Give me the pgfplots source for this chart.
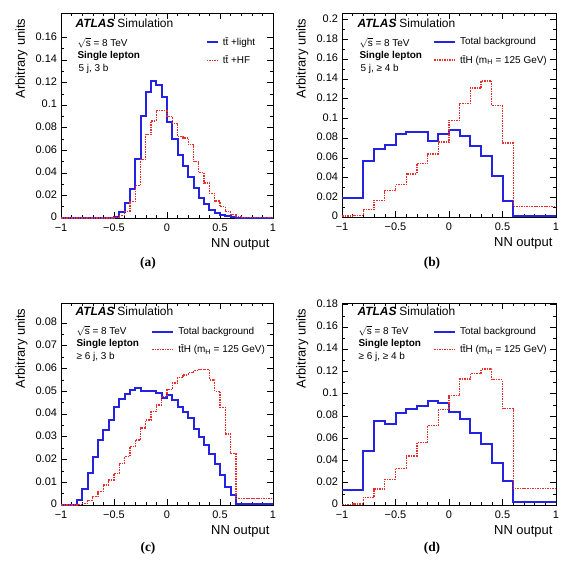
\documentclass[border=0pt]{standalone}
\usepackage{pgfplots}
\pgfplotsset{compat=1.18}
\usepackage{fontspec}
\setmainfont{Liberation Sans}
\newfontfamily\capfont{Liberation Serif}
\definecolor{hblue}{RGB}{35,35,225}
\definecolor{hred}{RGB}{235,45,45}
\newcommand{\ttb}{t\={t}}
\pgfplotsset{
  panel/.style={
    scale only axis, anchor=north west,
    xmin=-1, xmax=1, ymin=0,
    xtick={-1,-0.5,0,0.5,1},
    xticklabels={−1,−0.5,0,0.5,1},
    minor x tick num=4, minor y tick num=1,
    tick align=inside,
    major tick length=6bp, minor tick length=3bp,
    axis line style={line width=0.7bp},
    every tick/.style={black, line width=0.6bp},
    tick label style={font=\fontsize{11}{11}\selectfont},
    xticklabel style={yshift=-2bp},
    yticklabel style={xshift=-0.5bp, yshift=1bp},
    /pgf/number format/fixed, /pgf/number format/precision=2,
    /pgf/number format/assume math mode=true,
    scaled y ticks=false,
    xlabel={NN output}, ylabel={Arbitrary units},
    every axis x label/.style={at={(axis description cs:1,-0.145)}, anchor=base east, font=\fontsize{13}{13}\selectfont},
    every axis y label/.style={at={(axis description cs:-0.170,0.990)}, anchor=base east, rotate=90, font=\fontsize{13}{13}\selectfont},
    legend cell align=left,
  },
  bl/.style={hblue, line width=2bp, const plot mark left, no marks},
  rd/.style={hred, line width=1.3bp, dash pattern=on 1.5bp off 1bp, const plot mark left, no marks},
  lg/.style={legend style={draw=none, fill=none, at={(axis description cs:#1)}, anchor=north west,
     font=\fontsize{10}{12}\selectfont, row sep=7bp, inner sep=0pt,
     nodes={inner sep=1bp}, /tikz/every odd column/.style={column sep=3bp}}},
}
\newcommand{\atlas}[5]{%
  \node[anchor=base west, font=\fontsize{12}{12}\selectfont] at (#1bp,#2bp) {\textbf{\textit{ATLAS}}\kern3bp Simulation};
  \node[anchor=base west, font=\fontsize{10}{10}\selectfont] at (#3bp,#2bp-19bp) {$\sqrt{\hbox{s}}$ = 8 TeV};
  \node[anchor=base west, font=\fontsize{10}{10}\selectfont\bfseries] at (#3bp,#2bp-31bp) {Single lepton};
  \node[anchor=base west, font=\fontsize{10}{10}\selectfont] at (#4bp,#2bp-44bp) {#5};
}
\begin{document}
\begin{tikzpicture}
\useasboundingbox (0,0) rectangle (565bp,-566bp);
% ---------------- (a)
\begin{axis}[panel, at={(61bp,-13bp)}, width=212bp, height=205bp, ymax=0.1816,
  ytick={0,0.02,0.04,0.06,0.08,0.1,0.12,0.14,0.16}, lg={0.682,0.885},
  legend image code/.code={\draw[#1] (0bp,0bp) -- (11bp,0bp);}]
\addplot[bl] coordinates {
(-1,0)(-0.95,0)(-0.9,0)(-0.85,0)(-0.8,0)(-0.75,0)(-0.7,0)(-0.65,0)(-0.6,0)(-0.55,0)
(-0.5,0.001)(-0.45,0.005)(-0.4,0.0135)(-0.35,0.026)(-0.3,0.052)(-0.25,0.090)(-0.2,0.112)(-0.15,0.121)(-0.1,0.118)(-0.05,0.107)
(0,0.085)(0.05,0.070)(0.1,0.056)(0.15,0.046)(0.2,0.0365)(0.25,0.027)(0.3,0.018)(0.35,0.012)(0.4,0.0073)(0.45,0.0046)
(0.5,0.0025)(0.55,0.0014)(0.6,0.0007)(0.65,0.0002)(0.7,0.0002)(0.75,0.0001)(0.8,0.0001)(0.85,0.0001)(0.9,0.0001)(0.95,0.0001)(1,0.0001)};
\addlegendentry{\ttb\ +light}
\addplot[rd] coordinates {
(-1,0)(-0.95,0)(-0.9,0)(-0.85,0)(-0.8,0)(-0.75,0)(-0.7,0)(-0.65,0)(-0.6,0)(-0.55,0)
(-0.5,0.0005)(-0.45,0.002)(-0.4,0.006)(-0.35,0.0145)(-0.3,0.029)(-0.25,0.052)(-0.2,0.074)(-0.15,0.086)(-0.1,0.095)(-0.05,0.095)
(0,0.090)(0.05,0.084)(0.1,0.072)(0.15,0.071)(0.2,0.065)(0.25,0.050)(0.3,0.040)(0.35,0.031)(0.4,0.022)(0.45,0.015)
(0.5,0.010)(0.55,0.0056)(0.6,0.003)(0.65,0.0012)(0.7,0.0003)(0.75,0.0002)(0.8,0.0002)(0.85,0.0002)(0.9,0.0002)(0.95,0.0002)(1,0.0002)};
\addlegendentry{\ttb\ +HF}
\end{axis}
% ---------------- (b)
\begin{axis}[panel, at={(342bp,-13bp)}, width=214bp, height=204bp, ymax=0.2068,
  ytick={0,0.02,0.04,0.06,0.08,0.1,0.12,0.14,0.16,0.18,0.2}, lg={0.425,0.885},
  legend image code/.code={\draw[#1] (0bp,0bp) -- (21bp,0bp);}]
\addplot[bl] coordinates {
(-1,0.019)(-0.9,0.019)(-0.8,0.0564)(-0.7,0.069)(-0.6,0.0726)(-0.5,0.0845)(-0.4,0.086)(-0.3,0.086)(-0.2,0.0774)(-0.1,0.084)
(0,0.088)(0.1,0.0818)(0.2,0.0723)(0.3,0.0615)(0.4,0.042)(0.5,0.0159)(0.6,0.0014)(0.7,0.0014)(0.8,0.0014)(0.9,0.0014)(1,0.0014)};
\addlegendentry{Total background}
\addplot[rd] coordinates {
(-1,0.001)(-0.9,0.0012)(-0.8,0.0074)(-0.7,0.0169)(-0.6,0.0267)(-0.5,0.0328)(-0.4,0.0436)(-0.3,0.054)(-0.2,0.0639)(-0.1,0.076)
(0,0.098)(0.1,0.1149)(0.2,0.1307)(0.3,0.138)(0.4,0.1128)(0.5,0.075)(0.6,0.0108)(0.7,0.0108)(0.8,0.0108)(0.9,0.0108)(1,0.0108)};
\addlegendentry{\ttb H (m\textsubscript{H} = 125 GeV)}
\end{axis}
% ---------------- (c)
\begin{axis}[panel, at={(61bp,-303bp)}, width=212bp, height=202bp, ymax=0.0888,
  ytick={0,0.01,0.02,0.03,0.04,0.05,0.06,0.07,0.08}, lg={0.425,0.885},
  legend image code/.code={\draw[#1] (0bp,0bp) -- (21bp,0bp);}]
\addplot[bl] coordinates {
(-1,0)(-0.95,0)(-0.9,0)(-0.85,0.002)(-0.8,0.007)(-0.75,0.0142)(-0.7,0.021)(-0.65,0.0285)(-0.6,0.033)(-0.55,0.0374)
(-0.5,0.043)(-0.45,0.0465)(-0.4,0.049)(-0.35,0.0505)(-0.3,0.0513)(-0.25,0.0502)(-0.2,0.0502)(-0.15,0.0500)(-0.1,0.0492)(-0.05,0.0472)
(0,0.0483)(0.05,0.0463)(0.1,0.0433)(0.15,0.0411)(0.2,0.0382)(0.25,0.0335)(0.3,0.0298)(0.35,0.0264)(0.4,0.0223)(0.45,0.0180)
(0.5,0.0130)(0.55,0.0081)(0.6,0.0044)(0.65,0.0005)(0.7,0.0005)(0.75,0.0005)(0.8,0.0005)(0.85,0.0005)(0.9,0.0005)(0.95,0.0005)(1,0.0005)};
\addlegendentry{Total background}
\addplot[rd] coordinates {
(-1,0)(-0.95,0)(-0.9,0)(-0.85,0.0002)(-0.8,0.0007)(-0.75,0.002)(-0.7,0.0037)(-0.65,0.0059)(-0.6,0.0088)(-0.55,0.011)
(-0.5,0.014)(-0.45,0.0184)(-0.4,0.0213)(-0.35,0.0257)(-0.3,0.0286)(-0.25,0.0338)(-0.2,0.0374)(-0.15,0.0411)(-0.1,0.044)(-0.05,0.0477)
(0,0.0507)(0.05,0.0536)(0.1,0.0560)(0.15,0.0572)(0.2,0.0582)(0.25,0.0590)(0.3,0.0597)(0.35,0.0595)(0.4,0.0550)(0.45,0.0500)
(0.5,0.0430)(0.55,0.0312)(0.6,0.0225)(0.65,0.0028)(0.7,0.0028)(0.75,0.0028)(0.8,0.0028)(0.85,0.0028)(0.9,0.0028)(0.95,0.0028)(1,0.0028)};
\addlegendentry{\ttb H (m\textsubscript{H} = 125 GeV)}
\end{axis}
% ---------------- (d)
\begin{axis}[panel, at={(342bp,-303bp)}, width=214bp, height=202bp, ymax=0.1815,
  ytick={0,0.02,0.04,0.06,0.08,0.1,0.12,0.14,0.16,0.18}, lg={0.425,0.885},
  legend image code/.code={\draw[#1] (0bp,0bp) -- (21bp,0bp);}]
\addplot[bl] coordinates {
(-1,0.0135)(-0.9,0.0135)(-0.8,0.0486)(-0.7,0.0759)(-0.6,0.0726)(-0.5,0.0828)(-0.4,0.0864)(-0.3,0.0891)(-0.2,0.0936)(-0.1,0.0915)
(0,0.084)(0.1,0.0774)(0.2,0.0651)(0.3,0.0549)(0.4,0.0381)(0.5,0.0219)(0.6,0.003)(0.7,0.003)(0.8,0.003)(0.9,0.003)(1,0.003)};
\addlegendentry{Total background}
\addplot[rd] coordinates {
(-1,0.0005)(-0.9,0.0008)(-0.8,0.0069)(-0.7,0.0144)(-0.6,0.0231)(-0.5,0.033)(-0.4,0.0441)(-0.3,0.0561)(-0.2,0.0714)(-0.1,0.0855)
(0,0.0981)(0.1,0.1131)(0.2,0.1179)(0.3,0.1221)(0.4,0.1125)(0.5,0.0864)(0.6,0.015)(0.7,0.015)(0.8,0.015)(0.9,0.015)(1,0.015)};
\addlegendentry{\ttb H (m\textsubscript{H} = 125 GeV)}
\end{axis}
% ---------------- labels
\atlas{72}{-27.3}{74}{75}{5 j, 3 b}
\atlas{354}{-27.3}{356}{357}{5 j, ≥ 4 b}
\atlas{72}{-315}{73}{73}{≥ 6 j, 3 b}
\atlas{354}{-315}{355}{355}{≥ 6 j, ≥ 4 b}
\node[font=\capfont\bfseries\fontsize{13.5}{13.5}\selectfont] at (148bp,-263bp) {(a)};
\node[font=\capfont\bfseries\fontsize{13.5}{13.5}\selectfont] at (432bp,-263bp) {(b)};
\node[font=\capfont\bfseries\fontsize{13.5}{13.5}\selectfont] at (148bp,-548bp) {(c)};
\node[font=\capfont\bfseries\fontsize{13.5}{13.5}\selectfont] at (432bp,-548bp) {(d)};
\end{tikzpicture}
\end{document}
